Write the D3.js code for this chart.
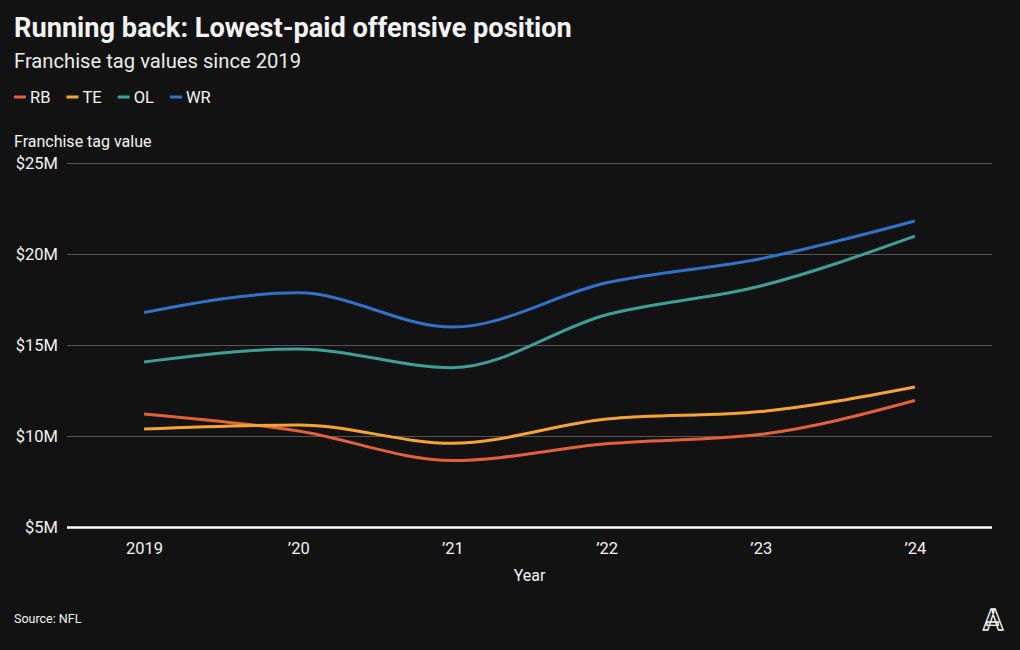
<!DOCTYPE html>
<html><head><meta charset="utf-8">
<script src="https://cdn.jsdelivr.net/npm/d3@7"></script>
<style>
body{margin:0;background:#121212;}
svg{display:block;}
text{font-family:Roboto,"Noto Sans",sans-serif;fill:#f2f2f2;}
</style></head>
<body>
<svg id="chart" width="1020" height="650"></svg>
<script>
const years = [2019, 2020, 2021, 2022, 2023, 2024];
const yearLabels = ["2019", "\u201920", "\u201921", "\u201922", "\u201923", "\u201924"];
const seriesNames = ["RB", "TE", "OL", "WR"];
const seriesColors = ["#e2613a", "#f5a431", "#3e9f97", "#2f72c8"];
const rbValues = [11.214, 10.278, 8.655, 9.57, 10.091, 11.951];
const teValues = [10.387, 10.607, 9.601, 10.931, 11.345, 12.693];
const olValues = [14.067, 14.781, 13.754, 16.662, 18.244, 20.985];
const wrValues = [16.787, 17.865, 15.983, 18.419, 19.743, 21.816];
const yTicks = [5, 10, 15, 20, 25];

(function(){
const seriesValues = [rbValues, teValues, olValues, wrValues];
const svg = d3.select("#chart");
svg.append("rect").attr("width",1020).attr("height",650).attr("fill","#121212");

const pLeft = 67, pRight = 992, pTop = 163, pBottom = 527;
const x = d3.scalePoint().domain(years).range([pLeft, pRight]).padding(0.5);
const y = d3.scaleLinear().domain([5, 25]).range([pBottom, pTop]);

// Titles
svg.append("text").attr("x",14).attr("y",37).attr("font-size",27.2).attr("font-weight",700)
  .text("Running back: Lowest-paid offensive position");
svg.append("text").attr("x",14).attr("y",68).attr("font-size",20.2).style("fill","#ebebeb")
  .text("Franchise tag values since 2019");

// Legend
let lx = 14;
seriesNames.forEach((n,i)=>{
  svg.append("line").attr("x1",lx).attr("x2",lx+12).attr("y1",97).attr("y2",97)
    .attr("stroke",seriesColors[i]).attr("stroke-width",3);
  const t = svg.append("text").attr("x",lx+16).attr("y",103).attr("font-size",16.5).text(n);
  lx += 16 + t.node().getComputedTextLength() + 16;
});

// Y axis label
svg.append("text").attr("x",14).attr("y",147).attr("font-size",16).text("Franchise tag value");

// Gridlines
const yAxis = d3.axisLeft(y).tickValues(yTicks).tickSize(-(pRight-pLeft)).tickPadding(9)
  .tickFormat(d=>"$"+d+"M");
const gy = svg.append("g").attr("transform",`translate(${pLeft},0)`).call(yAxis);
gy.select(".domain").remove();
gy.selectAll(".tick line").attr("stroke","#555").attr("stroke-width",1);
gy.selectAll(".tick text").attr("font-size",16.5).style("fill","#f2f2f2")
  .attr("font-family","Roboto, sans-serif").attr("dy","0.35em");
gy.selectAll(".tick").filter(d=>d===5).select("line").attr("stroke","#ffffff").attr("stroke-width",2.5);

// X axis
const xAxis = d3.axisBottom(x).tickSize(0).tickPadding(12).tickFormat((d,i)=>yearLabels[i]);
const gx = svg.append("g").attr("transform",`translate(0,${pBottom})`).call(xAxis);
gx.select(".domain").remove();
gx.selectAll(".tick text").attr("font-size",16.5).style("fill","#f2f2f2")
  .attr("font-family","Roboto, sans-serif").attr("dy","0.9em");

svg.append("text").attr("x",(pLeft+pRight)/2).attr("y",581).attr("text-anchor","middle")
  .attr("font-size",16).text("Year");

// Lines
const line = d3.line().x((d,i)=>x(years[i])).y(d=>y(d)).curve(d3.curveMonotoneX);
seriesValues.forEach((vals,i)=>{
  svg.append("path").datum(vals).attr("d",line).attr("fill","none")
    .attr("stroke",seriesColors[i]).attr("stroke-width",3);
});

// Source
svg.append("text").attr("x",14).attr("y",623).attr("font-size",12.5).text("Source: NFL");

// Logo
svg.append("text").attr("x",993).attr("y",630).attr("text-anchor","middle")
  .attr("font-family","'Liberation Serif', 'DejaVu Serif', serif").attr("font-size",30)
  .attr("font-weight",700).style("fill","#121212").style("stroke","#f2f2f2").style("stroke-width","1.3px")
  .text("A");
})();
</script>
</body></html>
